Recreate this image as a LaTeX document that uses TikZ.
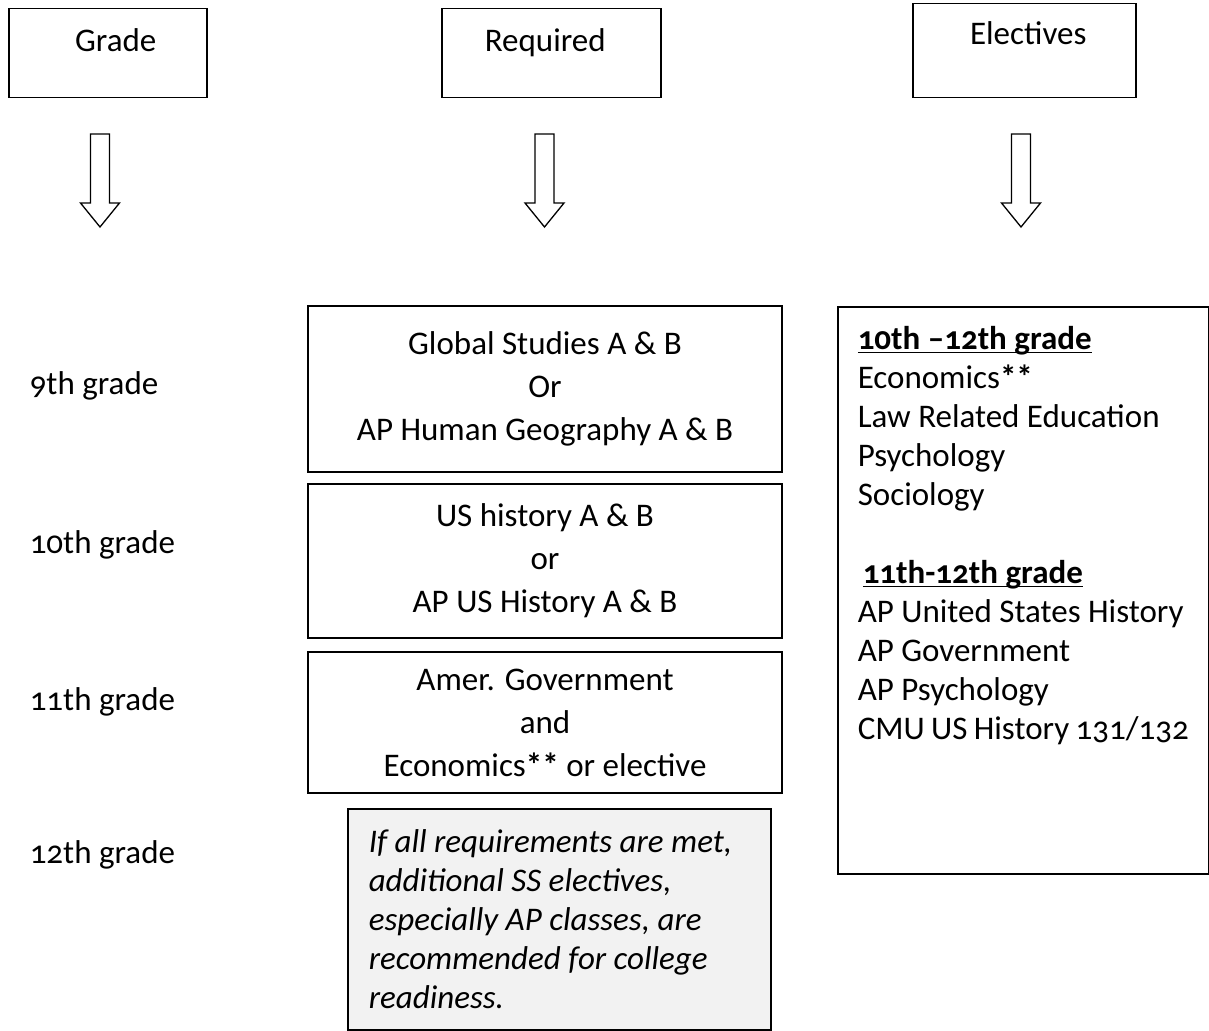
\documentclass[tikz,border=0pt]{standalone}
\usepackage{fontspec}
\setmainfont{Carlito}[Numbers=OldStyle]
\definecolor{notegray}{HTML}{F2F2F2}
\newsavebox{\ulbox}
\newcommand{\ulhead}[1]{\leavevmode\sbox{\ulbox}{\textbf{#1}}\rlap{\rule[-3.5pt]{\wd\ulbox}{1.4pt}}\usebox{\ulbox}}

\begin{document}
\begin{tikzpicture}[x=1pt,y=-1pt,line width=1.5pt,
  every node/.style={font=\fontsize{33}{39}\selectfont},
  headbox/.style={draw,inner sep=0pt,minimum width=#1,anchor=north west},
  reqbox/.style={draw,align=center,minimum width=474,minimum height=#1,
    font=\fontsize{33}{43}\selectfont},
  notebox/.style={draw,fill=notegray,align=flush left,text width=381,inner xsep=21,
    minimum height=221,anchor=north west,font=\fontsize{33}{39}\selectfont\itshape},
  gradelabel/.style={anchor=base west,inner sep=0pt}]
\useasboundingbox (0,0) rectangle (1209,1030);

% column heads
\node[headbox=198,text height=43,text depth=46] (grade) at (8,8) {\hspace*{16pt}Grade};
\node[headbox=219,text height=43,text depth=46] (required) at (441,8) {Required\hspace*{12pt}};
\node[headbox=223,text height=41,text depth=53] (electives) at (912,3) {\hspace*{8pt}Electives};

\foreach \x in {100,544.5,1021}
  \draw[line width=1.3pt] (\x-9.5,134) -- (\x+9.5,134) -- (\x+9.5,203) -- (\x+19.5,203)
    -- (\x,227) -- (\x-19.5,203) -- (\x-9.5,203) -- cycle;

% grades
\node[gradelabel] (g9) at (29,394) {9th grade};
\node[gradelabel] (g10) at (29,553) {10th grade};
\node[gradelabel] (g11) at (29,710) {11th grade};
\node[gradelabel] (g12) at (29,863) {12th grade};

% required courses
\node[reqbox=166] (global) at (545,389) {Global Studies A \& B\\Or\\AP Human Geography A \& B};
\node[reqbox=154] (ushist) at (545,561) {US history A \& B\\or\\AP US History A \& B};
\node[reqbox=141] (amgov) at (545,722.5) {Amer. Government\\and\\Economics\textbf{**} or elective};
\node[notebox] (note) at (347,808) {If all requirements are met,\\additional SS electives,\\
  especially AP classes, are\\recommended for college\\readiness.};

% electives list
\node[draw,anchor=north west,inner sep=20pt] (elist) at (837,306)
  {\parbox[t][527pt][t]{331pt}{\ulhead{10th –12th grade}\\
  Economics\textbf{**}\\Law Related Education\\Psychology\\Sociology\\[39pt]
  \hspace*{5pt}\ulhead{11th-12th grade}\\
  AP United States History\\AP Government\\AP Psychology\\CMU US History 131/132}};

\end{tikzpicture}
\end{document}
